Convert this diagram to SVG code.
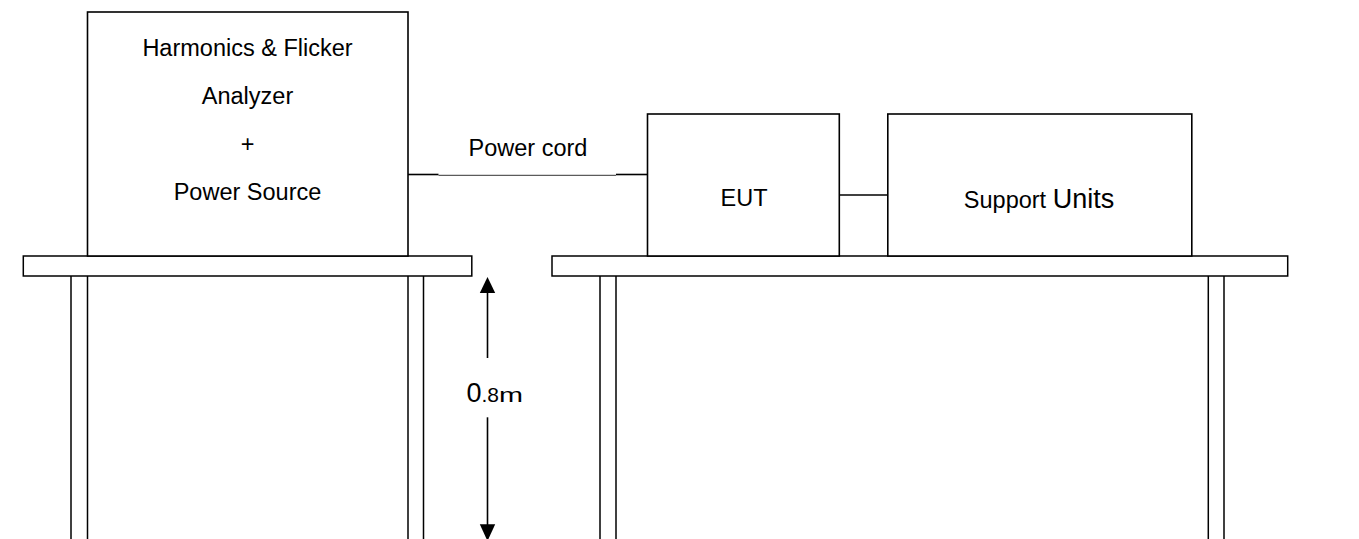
<svg xmlns="http://www.w3.org/2000/svg" width="1359" height="539" viewBox="0 0 1359 539">
<style>
.box{fill:#fff;stroke:#000;stroke-width:1.6}
.tbl{fill:#fff;stroke:#000;stroke-width:1.5}
.leg{fill:none;stroke:#000;stroke-width:1.5}
.ln{fill:none;stroke:#000;stroke-width:1.6}
.thin{fill:none;stroke:#333;stroke-width:1}
.t{font-family:"Liberation Sans",Arial,sans-serif;font-size:23.5px;fill:#000;text-anchor:middle}
.s{text-anchor:start}
.big{font-size:27px}
.sm{font-size:21px}
.head{fill:#000;stroke:none}
</style>
<rect width="1359" height="539" fill="#fff"/>
<g id="tables">
  <g id="table-left">
    <line class="leg" x1="71" y1="276" x2="71" y2="545"/>
    <line class="leg" x1="87.5" y1="276" x2="87.5" y2="545"/>
    <line class="leg" x1="408" y1="276" x2="408" y2="545"/>
    <line class="leg" x1="423.5" y1="276" x2="423.5" y2="545"/>
    <rect class="tbl" x="23.3" y="256" width="448.5" height="20"/>
  </g>
  <g id="table-right">
    <line class="leg" x1="600" y1="276" x2="600" y2="545"/>
    <line class="leg" x1="616" y1="276" x2="616" y2="545"/>
    <line class="leg" x1="1208.3" y1="276" x2="1208.3" y2="545"/>
    <line class="leg" x1="1224" y1="276" x2="1224" y2="545"/>
    <rect class="tbl" x="552" y="256" width="735.7" height="20"/>
  </g>
</g>
<g id="node-analyzer">
  <rect class="box" x="87.5" y="12" width="320.5" height="244"/>
  <text class="t" x="247.5" y="56">Harmonics &amp; Flicker</text>
  <text class="t" x="247.5" y="104">Analyzer</text>
  <text class="t" x="247.5" y="152">+</text>
  <text class="t" x="247.5" y="200">Power Source</text>
</g>
<g id="node-eut">
  <rect class="box" x="647.5" y="114" width="191.8" height="142"/>
  <text class="t" x="744" y="206">EUT</text>
</g>
<g id="node-support">
  <rect class="box" x="887.8" y="114" width="304" height="142"/>
  <text class="t" x="1039" y="207.5"><tspan>Support </tspan><tspan class="big">Units</tspan></text>
</g>
<g id="connectors">
  <line class="ln" x1="408" y1="174.5" x2="438.5" y2="174.5"/>
  <line class="thin" x1="438.5" y1="175.3" x2="616" y2="175.3"/>
  <line class="ln" x1="616" y1="174.5" x2="647.5" y2="174.5"/>
  <text class="t" x="528" y="155.7">Power cord</text>
  <line class="ln" x1="839.3" y1="195" x2="887.8" y2="195"/>
</g>
<g id="dimension">
  <line class="ln" x1="487.5" y1="290" x2="487.5" y2="358"/>
  <polygon class="head" points="487.5,277 479.8,293 495.2,293"/>
  <line class="ln" x1="487.5" y1="417.3" x2="487.5" y2="526"/>
  <polygon class="head" points="487.5,541 479.8,524.3 495.2,524.3"/>
  <text class="t s" x="466.5" y="401.5"><tspan class="big">0</tspan><tspan class="sm">.8</tspan><tspan class="sm" textLength="24" lengthAdjust="spacingAndGlyphs">m</tspan></text>
</g>
</svg>
